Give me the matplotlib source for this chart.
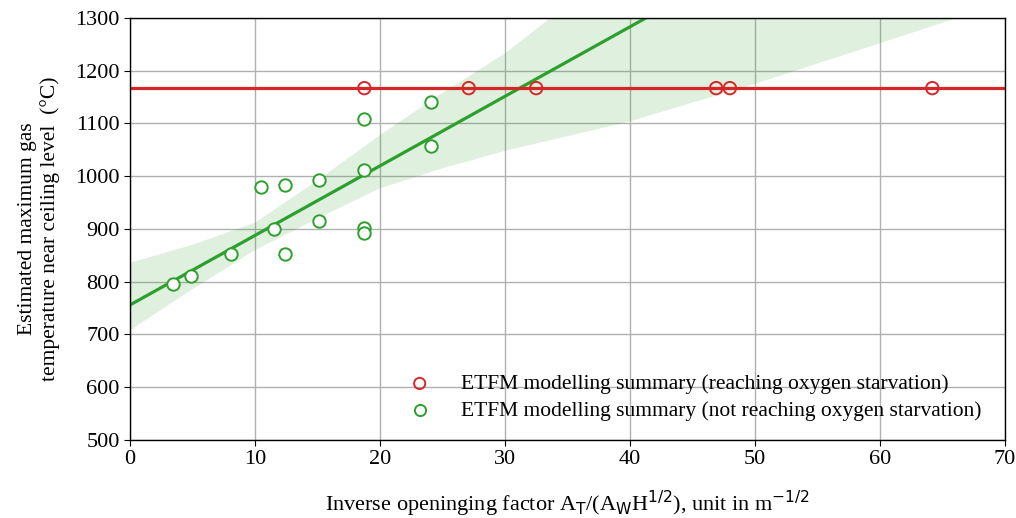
import numpy as np
import matplotlib.pyplot as plt

plt.rcParams['font.family'] = ['Liberation Serif', 'DejaVu Serif']
plt.rcParams['mathtext.fontset'] = 'dejavusans'

# ETFM cases that reach oxygen starvation (all capped at the same temperature)
red_x = [18.75, 27.1, 32.5, 46.9, 48.0, 64.2]
red_temp = [1167, 1167, 1167, 1167, 1167, 1167]

# ETFM cases that do not reach oxygen starvation
green_x = [3.4, 4.9, 8.1, 10.5, 11.5, 12.4, 12.4, 15.1, 15.1,
           18.75, 18.75, 18.75, 18.75, 24.05, 24.05]
green_temp = [795, 811, 852, 979, 900, 983, 852, 993, 916,
              1108, 1012, 902, 893, 1141, 1057]

# 95% confidence band around the fit
ci_x = [0, 5, 10, 15, 20, 25, 30, 35, 40, 50, 60, 70]
ci_lower = [708, 786, 860, 920, 977, 1015, 1048, 1076, 1104, 1175, 1252, 1330]
ci_upper = [836, 870, 912, 992, 1078, 1158, 1233, 1325, 1410, 1580, 1750, 1920]

red = '#d62728'
green = '#2ca02c'

fig = plt.figure(figsize=(10.16, 5.18), dpi=100)
ax = fig.add_axes([0.128, 0.1506, 0.861, 0.8147])

# linear fit through the non-starved cases
slope, intercept = np.polyfit(green_x, green_temp, 1)
xfit = np.linspace(0, 70, 200)
ax.fill_between(ci_x, ci_lower, ci_upper, color=green, alpha=0.15, linewidth=0, zorder=1)
ax.plot(xfit, intercept + slope * xfit, color=green, linewidth=2.3, zorder=2)

ax.axhline(red_temp[0], color=red, linewidth=2.3, zorder=2)

ax.scatter(red_x, red_temp, s=80, facecolors='none', edgecolors=red, linewidths=1.4,
           zorder=3, label='ETFM modelling summary (reaching oxygen starvation)')
ax.scatter(green_x, green_temp, s=80, facecolors='white', edgecolors=green, linewidths=1.4,
           zorder=3, label='ETFM modelling summary (not reaching oxygen starvation)')

ax.set_xlim(0, 70)
ax.set_ylim(500, 1300)
ax.set_xticks(np.arange(0, 71, 10))
ax.set_yticks(np.arange(500, 1301, 100))
ax.grid(color='#b0b0b0', linewidth=1.0)
ax.set_axisbelow(True)
ax.tick_params(direction='out', length=4, labelsize=16)
for s in ax.spines.values():
    s.set_color('black')
    s.set_linewidth(1.0)

ax.set_xlabel(r'Inverse openinging factor A$_{\mathrm{T}}$/(A$_{\mathrm{W}}$H$^{1/2}$), unit in m$^{-1/2}$',
              fontsize=16, labelpad=14)
ax.set_ylabel('Estimated maximum gas\ntemperature near ceiling level  (°C)',
              fontsize=15.5, labelpad=11)

ax.legend(loc='lower right', frameon=False, fontsize=15.5, handletextpad=0.9,
          markerscale=0.9, borderaxespad=0.5, labelspacing=0.3,
          bbox_to_anchor=(0.995, 0.0))

plt.savefig('out.png', dpi=100)
